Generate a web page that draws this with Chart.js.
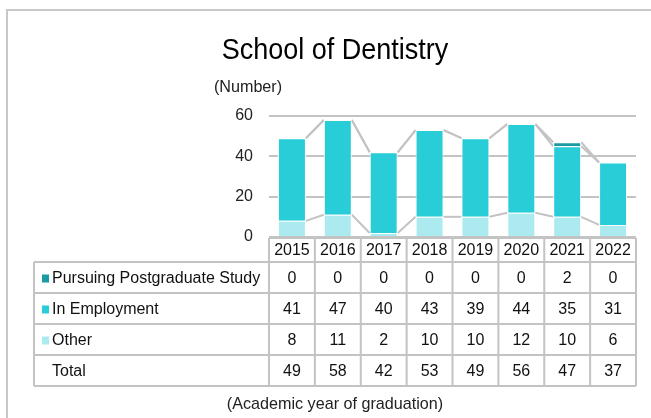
<!DOCTYPE html>
<html>
<head>
<meta charset="utf-8">
<script src="https://cdn.jsdelivr.net/npm/chart.js@4.4.0/dist/chart.umd.min.js"></script>
<style>
  html, body { margin: 0; padding: 0; background: #fff; }
  #wrap { width: 651px; height: 418px; position: relative; }
</style>
</head>
<body>
<div id="wrap"><canvas id="grafico" width="651" height="418"></canvas></div>
<script>
// datos
let years = ['2015', '2016', '2017', '2018', '2019', '2020', '2021', '2022'];
let postgrad = [0, 0, 0, 0, 0, 0, 2, 0];
let employment = [41, 47, 40, 43, 39, 44, 35, 31];
let other = [8, 11, 2, 10, 10, 12, 10, 6];
let total = [49, 58, 42, 53, 49, 56, 47, 37];
let yTicks = [0, 20, 40, 60];

let colPostgrad = '#1a9ba3',
    colEmployment = '#29cdd8',
    colOther = '#abebef',
    lineGrey = '#c3c3c3',
    font = '"Liberation Sans", Arial, sans-serif';

// filas de la tabla (orden de arriba abajo)
let rows = [
    { label: 'Pursuing Postgraduate Study', color: colPostgrad, values: postgrad },
    { label: 'In Employment', color: colEmployment, values: employment },
    { label: 'Other', color: colOther, values: other },
    { label: 'Total', color: null, values: total }
];

// lineas de serie entre barras (estilo Excel)
const seriesLines = {
    id: 'seriesLines',
    beforeDatasetsDraw(chart) {
        let ctx = chart.ctx;
        ctx.save();
        ctx.strokeStyle = lineGrey;
        ctx.lineWidth = 2;
        chart.data.datasets.forEach(function (ds, d) {
            let meta = chart.getDatasetMeta(d);
            for (let i = 0; i < meta.data.length - 1; i++) {
                let a = meta.data[i], b = meta.data[i + 1];
                ctx.beginPath();
                ctx.moveTo(a.x + a.width / 2, a.y);
                ctx.lineTo(b.x - b.width / 2, b.y);
                ctx.stroke();
            }
        });
        ctx.restore();
    }
};

function textoAncho(ctx, txt, cx, cy, size, sx) {
    ctx.save();
    ctx.translate(cx, cy);
    ctx.scale(sx, 1);
    ctx.font = size + 'px ' + font;
    ctx.fillText(txt, 0, 0);
    ctx.restore();
}

// titulo, etiquetas y tabla de datos
const decor = {
    id: 'decor',
    afterDraw(chart) {
        let ctx = chart.ctx;
        let area = chart.chartArea;
        let x = chart.scales.x;
        let colW = area.width / years.length;
        ctx.save();

        // marco exterior
        ctx.strokeStyle = '#c8c8c8';
        ctx.lineWidth = 2;
        ctx.beginPath();
        ctx.moveTo(7, 420);
        ctx.lineTo(7, 10);
        ctx.lineTo(655, 10);
        ctx.stroke();

        ctx.fillStyle = '#000';
        ctx.textBaseline = 'middle';
        ctx.textAlign = 'center';
        textoAncho(ctx, 'School of Dentistry', 335, 51, 30, 0.9);

        ctx.fillStyle = '#222';
        textoAncho(ctx, '(Number)', 248, 87, 17, 0.95);
        textoAncho(ctx, '(Academic year of graduation)', 335, 404, 17, 0.95);

        // tabla
        let left = 34, top = area.bottom + 1;
        let headerH = 24;
        let rowTops = [top + headerH];
        let rowH = 31;
        for (let r = 0; r < rows.length; r++) rowTops.push(rowTops[0] + rowH * (r + 1));
        let bottom = rowTops[rowTops.length - 1];

        ctx.strokeStyle = lineGrey;
        ctx.lineWidth = 2;
        ctx.beginPath();
        // horizontales
        ctx.moveTo(area.left, top); ctx.lineTo(area.right, top);
        rowTops.forEach(function (yy) {
            ctx.moveTo(left, yy); ctx.lineTo(area.right, yy);
        });
        // verticales
        ctx.moveTo(left, rowTops[0]); ctx.lineTo(left, bottom);
        for (let i = 0; i <= years.length; i++) {
            let xx = area.left + colW * i;
            ctx.moveTo(xx, top); ctx.lineTo(xx, bottom);
        }
        ctx.stroke();

        ctx.font = '16px ' + font;
        ctx.fillStyle = '#111';
        ctx.textAlign = 'center';
        years.forEach(function (y, i) {
            ctx.fillText(y, x.getPixelForValue(i), top + headerH / 2 + 1);
        });
        rows.forEach(function (row, r) {
            let cy = rowTops[r] + rowH / 2 + 1;
            if (row.color) {
                ctx.fillStyle = row.color;
                ctx.fillRect(42, cy - 4, 7, 8);
            }
            ctx.fillStyle = '#111';
            ctx.textAlign = 'left';
            ctx.fillText(row.label, 52, cy);
            ctx.textAlign = 'center';
            row.values.forEach(function (v, i) {
                ctx.fillText(String(v), x.getPixelForValue(i), cy);
            });
        });
        ctx.restore();
    }
};

let ctx = document.getElementById('grafico');
let myChart = new Chart(ctx, {
    type: 'bar',
    data: {
        labels: years,
        datasets: [{
            label: 'Other',
            data: other,
            backgroundColor: colOther,
            borderColor: '#fff',
            borderWidth: 1
        }, {
            label: 'In Employment',
            data: employment,
            backgroundColor: colEmployment,
            borderColor: '#fff',
            borderWidth: 1
        }, {
            label: 'Pursuing Postgraduate Study',
            data: postgrad,
            backgroundColor: colPostgrad,
            borderColor: '#fff',
            borderWidth: 1
        }]
    },
    options: {
        responsive: false,
        animation: false,
        devicePixelRatio: 1,
        layout: { padding: { left: 209, right: 15, top: 116, bottom: 181 } },
        datasets: { bar: { barPercentage: 0.61, categoryPercentage: 1 } },
        plugins: {
            legend: { display: false },
            title: { display: false },
            tooltip: { enabled: false }
        },
        scales: {
            x: { display: false, stacked: true },
            y: {
                stacked: true,
                min: 0,
                max: 60,
                afterFit: function (scale) { scale.width = 60; },
                afterBuildTicks: function (scale) {
                    scale.ticks = yTicks.map(function (v) { return { value: v }; });
                },
                border: { display: false },
                grid: { color: lineGrey, lineWidth: 2, drawTicks: false },
                ticks: {
                    padding: 16,
                    color: '#222',
                    font: { family: font, size: 16 }
                }
            }
        }
    },
    plugins: [seriesLines, decor]
});
</script>
</body>
</html>
